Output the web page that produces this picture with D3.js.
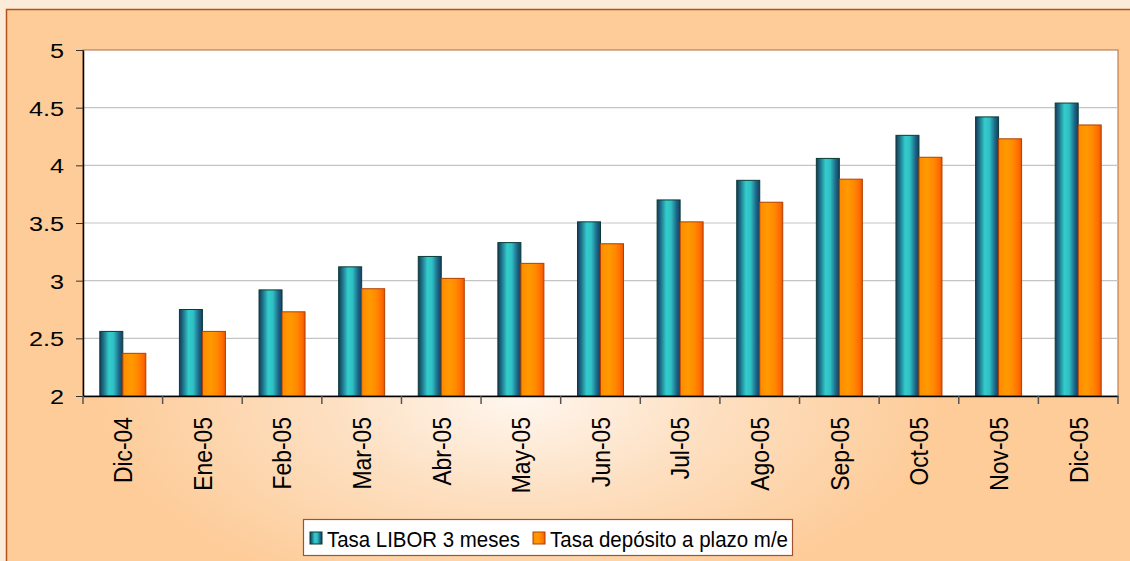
<!DOCTYPE html>
<html>
<head>
<meta charset="utf-8">
<script src="https://cdn.jsdelivr.net/npm/d3@7"></script>
<style>
  html, body { margin: 0; padding: 0; background: #fdebd9; }
  svg { display: block; font-family: Arial, "Liberation Sans", sans-serif; }
</style>
</head>
<body>
<div id="main"></div>
<script>
// months on the x axis
const months = ['Dic-04', 'Ene-05', 'Feb-05', 'Mar-05', 'Abr-05', 'May-05', 'Jun-05',
                'Jul-05', 'Ago-05', 'Sep-05', 'Oct-05', 'Nov-05', 'Dic-05'];
// series values
const libor = [2.56, 2.75, 2.92, 3.12, 3.21, 3.33, 3.51, 3.70, 3.87, 4.06, 4.26, 4.42, 4.54];
const deposito = [2.37, 2.56, 2.73, 2.93, 3.02, 3.15, 3.32, 3.51, 3.68, 3.88, 4.07, 4.23, 4.35];
const seriesNames = ['Tasa LIBOR 3 meses', 'Tasa depósito a plazo m/e'];
const yTicks = [2, 2.5, 3, 3.5, 4, 4.5, 5];

const width = 1130, height = 561;
const plot = { left: 83, top: 50, right: 1118, bottom: 396 };

let svg = d3.select('#main')
    .append('svg')
        .attr('width', width)
        .attr('height', height);

const defs = svg.append('defs');

// light centre of the chart area
const bg = defs.append('radialGradient')
    .attr('id', 'bgGrad')
    .attr('gradientUnits', 'userSpaceOnUse')
    .attr('cx', 520).attr('cy', 400).attr('r', 420)
    .attr('gradientTransform', 'translate(0,200) scale(1,0.5)');
bg.append('stop').attr('offset', '0%').attr('stop-color', '#fff6ee');
bg.append('stop').attr('offset', '45%').attr('stop-color', '#fde0c2');
bg.append('stop').attr('offset', '100%').attr('stop-color', '#fdcc99');

// cylinder-like shading of the bars
function barGradient(id, stops) {
    const g = defs.append('linearGradient').attr('id', id)
        .attr('x1', '0%').attr('x2', '100%').attr('y1', '0%').attr('y2', '0%');
    stops.forEach(s => g.append('stop').attr('offset', s[0]).attr('stop-color', s[1]));
}
barGradient('tealGrad', [['0%', '#153a5c'], ['15%', '#1d6d84'], ['40%', '#33cccc'], ['60%', '#2fc0c4'], ['85%', '#1c6485'], ['100%', '#163f62']]);
barGradient('orangeGrad', [['0%', '#ff8a00'], ['35%', '#ff9a00'], ['65%', '#ff8800'], ['88%', '#ff6a00'], ['100%', '#e85500']]);

// chart area
svg.append('rect')
    .attr('x', 6.5).attr('y', 9.5)
    .attr('width', width).attr('height', height)
    .attr('fill', 'url(#bgGrad)')
    .attr('stroke', '#b0541a')
    .attr('stroke-width', 1.5);

// plot area
svg.append('rect')
    .attr('x', plot.left).attr('y', plot.top)
    .attr('width', plot.right - plot.left).attr('height', plot.bottom - plot.top)
    .attr('fill', '#ffffff')
    .attr('stroke', '#b46a40')
    .attr('stroke-width', 1);

const x = d3.scaleBand().domain(months).range([plot.left, plot.right]).padding(0);
const y = d3.scaleLinear().domain([2, 5]).range([plot.bottom, plot.top]);

// grid lines
svg.append('g')
    .selectAll('line')
    .data(yTicks.filter(d => d > 2 && d < 5))
    .enter()
    .append('line')
        .attr('x1', plot.left).attr('x2', plot.right)
        .attr('y1', d => y(d)).attr('y2', d => y(d))
        .attr('stroke', '#c4c4c4')
        .attr('stroke-width', 1.2);

// bars
const barW = 23;
const series = [
    { name: seriesNames[0], values: libor, fill: 'url(#tealGrad)', stroke: '#0b3b33', off: -barW },
    { name: seriesNames[1], values: deposito, fill: 'url(#orangeGrad)', stroke: '#b04000', off: 0 }
];
series.forEach(s => {
    svg.append('g')
        .selectAll('rect')
        .data(s.values)
        .enter()
        .append('rect')
            .attr('x', (d, i) => x(months[i]) + x.bandwidth() / 2 + s.off)
            .attr('y', d => y(d))
            .attr('width', barW)
            .attr('height', d => y(2) - y(d))
            .attr('fill', s.fill)
            .attr('stroke', s.stroke)
            .attr('stroke-width', 1);
});

// y axis
const yAxis = svg.append('g')
    .attr('transform', `translate(${plot.left},0)`)
    .call(d3.axisLeft(y).tickValues(yTicks).tickFormat(d3.format('')).tickSize(7).tickSizeOuter(0));
yAxis.select('.domain').attr('stroke', '#000').attr('stroke-width', 1.5);
yAxis.selectAll('.tick line').attr('stroke', '#333');
yAxis.selectAll('.tick text')
    .attr('x', 0)
    .attr('dy', '0.36em')
    .attr('transform', 'translate(-19,0) scale(1.2,1)')
    .style('font-size', '21px')
    .style('fill', '#000');

// x axis, ticks sit between the months
const xAxis = svg.append('g')
    .attr('transform', `translate(0,${plot.bottom})`)
    .call(d3.axisBottom(x).tickSize(0).tickSizeOuter(0));
xAxis.select('.domain').attr('stroke', '#000').attr('stroke-width', 1.5);
xAxis.selectAll('.tick text')
    .attr('x', 0).attr('y', 0)
    .attr('dy', '0.36em')
    .attr('text-anchor', 'end')
    .attr('transform', 'translate(0,21) rotate(-90) scale(0.88,1)')
    .style('font-size', '26px')
    .style('fill', '#000');
xAxis.append('g')
    .selectAll('line')
    .data(months.map(m => x(m)).concat([plot.right]))
    .enter()
    .append('line')
        .attr('x1', d => d).attr('x2', d => d)
        .attr('y1', 0).attr('y2', 8)
        .attr('stroke', '#555')
        .attr('stroke-width', 1.5);

// legend
const legend = svg.append('g');
legend.append('rect')
    .attr('x', 303.5).attr('y', 519.5)
    .attr('width', 489).attr('height', 36)
    .attr('fill', '#ffffff')
    .attr('stroke', '#a0522d')
    .attr('stroke-width', 1.2);
const legendX = [310, 533];
const legendTextW = [193, 238];
series.forEach((s, i) => {
    legend.append('rect')
        .attr('x', legendX[i]).attr('y', 532)
        .attr('width', 12).attr('height', 12)
        .attr('fill', s.fill)
        .attr('stroke', s.stroke);
    legend.append('text')
        .attr('x', legendX[i] + 17).attr('y', 547)
        .attr('textLength', legendTextW[i])
        .attr('lengthAdjust', 'spacingAndGlyphs')
        .style('font-size', '21.5px')
        .style('fill', '#000')
        .text(s.name);
});
</script>
</body>
</html>
